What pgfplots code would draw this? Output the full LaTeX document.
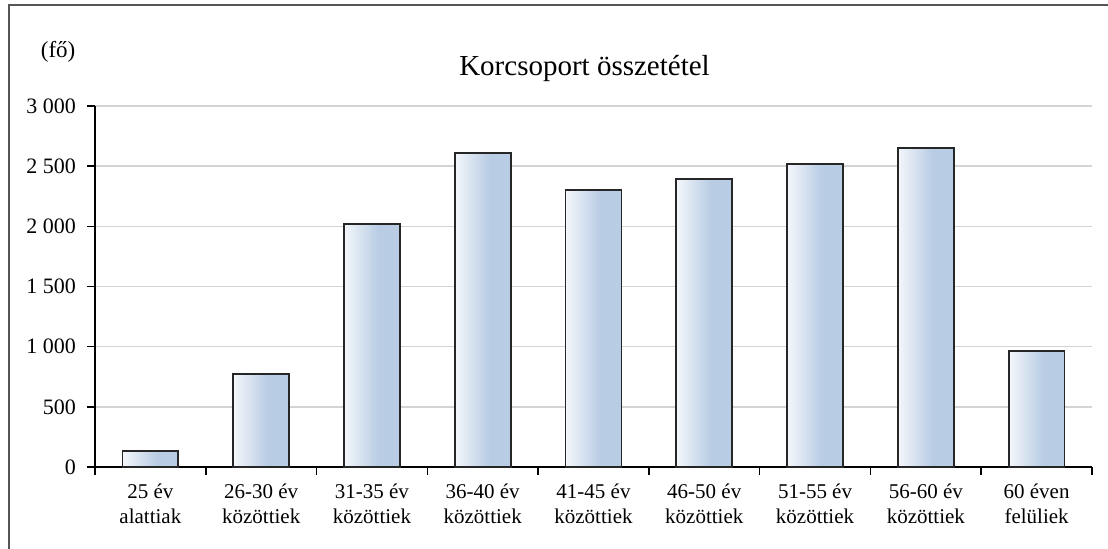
\documentclass[border=0pt]{standalone}
\usepackage{fontspec}
\setmainfont{Liberation Serif}
\usepackage{pgfplots}
\pgfplotsset{compat=1.18}
\definecolor{barblue}{HTML}{B8CCE4}
\definecolor{barlight}{HTML}{F4F7FB}
\definecolor{gridgray}{HTML}{D4D4D4}
\definecolor{framegray}{HTML}{555555}
\pgfdeclarehorizontalshading{barshade}{100bp}{color(0bp)=(barlight); color(25bp)=(barlight); color(56bp)=(barblue); color(100bp)=(barblue)}
\pgfplotsset{onebar/.style={draw=black!85, line width=0.9pt, shading=barshade, bar shift=0pt}}
\begin{document}
\begin{tikzpicture}
\useasboundingbox (-47.5pt,-40.5pt) rectangle (506.5pt,233.5pt);
\draw[framegray, line width=0.9pt] (-43pt,-41pt) -- (-43pt,231pt) -- (507pt,231pt);
\begin{axis}[
  at={(0,0)}, anchor=south west,
  scale only axis, width=498.5pt, height=180.5pt,
  ybar, bar width=0.505,
  xmin=-0.5, xmax=8.5, ymin=0, ymax=3000,
  axis x line*=bottom, axis y line*=left,
  axis line style={black, line width=0.8pt},
  xtick={0,...,8},
  xticklabels={{25 év\\alattiak},{26-30 év\\közöttiek},{31-35 év\\közöttiek},{36-40 év\\közöttiek},{41-45 év\\közöttiek},{46-50 év\\közöttiek},{51-55 év\\közöttiek},{56-60 év\\közöttiek},{60 éven\\felüliek}},
  xticklabel style={align=center, font=\fontsize{10.5}{12.5}\selectfont, yshift=-1pt},
  major x tick style={draw=none},
  minor xtick={-0.5,0.5,...,8.5},
  minor x tick style={black, line width=0.8pt},
  minor tick length=4pt,
  ytick={0,500,...,3000},
  yticklabels={0,500,1 000,1 500,2 000,2 500,3 000},
  yticklabel style={font=\fontsize{11}{13}\selectfont, xshift=-2pt},
  major tick length=4pt,
  tick align=outside,
  ymajorgrids, grid style={gridgray, line width=0.8pt},
  y tick style={black, line width=0.8pt},
  clip=false,
  /pgf/number format/assume math mode=true,
]
\addplot[onebar] coordinates {(0,130)};
\addplot[onebar] coordinates {(1,770)};
\addplot[onebar] coordinates {(2,2020)};
\addplot[onebar] coordinates {(3,2610)};
\addplot[onebar] coordinates {(4,2300)};
\addplot[onebar] coordinates {(5,2395)};
\addplot[onebar] coordinates {(6,2515)};
\addplot[onebar] coordinates {(7,2650)};
\addplot[onebar] coordinates {(8,965)};
\node[font=\fontsize{14.5}{16}\selectfont] at (rel axis cs:0.491,1.105) {Korcsoport összetétel};
\node[font=\fontsize{11.5}{13}\selectfont] at (rel axis cs:-0.037,1.15) {(fő)};
\end{axis}
\end{tikzpicture}
\end{document}
